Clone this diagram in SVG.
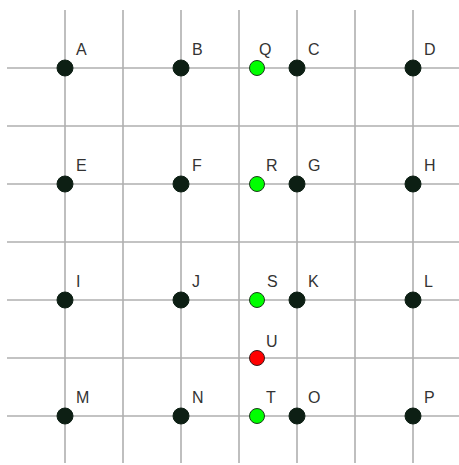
<svg xmlns="http://www.w3.org/2000/svg" width="459" height="465" viewBox="0 0 459 465">
<style>
.g{stroke:#b0b0b0;stroke-width:1.6;fill:none}
.k{fill:#0d1f14;stroke:#0d1f14;stroke-width:1}
.gr{fill:#00ff00;stroke:#1a3a1a;stroke-width:1}
.rd{fill:#ff0000;stroke:#3a1a1a;stroke-width:1}
text{font-family:"Liberation Sans",Arial,sans-serif;font-size:16px;fill:#333}
</style>
<rect width="459" height="465" fill="#fff"/>
<g id="connectors">
<path class="g" d="M65 10V463M123 10V463M181 10V463M239 10V463M297 10V463M355 10V463M413 10V463"/>
<path class="g" d="M7 68H459M7 126H459M7 184H459M7 242H459M7 300H459M7 358H459M7 416H459"/>
</g>
<g id="A"><circle class="k" cx="65" cy="68" r="8"/><text x="76" y="55">A</text></g>
<g id="B"><circle class="k" cx="181" cy="68" r="8"/><text x="192" y="55">B</text></g>
<g id="C"><circle class="k" cx="297" cy="68" r="8"/><text x="308" y="55">C</text></g>
<g id="D"><circle class="k" cx="413" cy="68" r="8"/><text x="424" y="55">D</text></g>
<g id="E"><circle class="k" cx="65" cy="184" r="8"/><text x="76" y="171">E</text></g>
<g id="F"><circle class="k" cx="181" cy="184" r="8"/><text x="192" y="171">F</text></g>
<g id="G"><circle class="k" cx="297" cy="184" r="8"/><text x="308" y="171">G</text></g>
<g id="H"><circle class="k" cx="413" cy="184" r="8"/><text x="424" y="171">H</text></g>
<g id="I"><circle class="k" cx="65" cy="300" r="8"/><text x="76" y="287">I</text></g>
<g id="J"><circle class="k" cx="181" cy="300" r="8"/><text x="192" y="287">J</text></g>
<g id="K"><circle class="k" cx="297" cy="300" r="8"/><text x="308" y="287">K</text></g>
<g id="L"><circle class="k" cx="413" cy="300" r="8"/><text x="424" y="287">L</text></g>
<g id="M"><circle class="k" cx="65" cy="416" r="8"/><text x="76" y="403">M</text></g>
<g id="N"><circle class="k" cx="181" cy="416" r="8"/><text x="192" y="403">N</text></g>
<g id="O"><circle class="k" cx="297" cy="416" r="8"/><text x="308" y="403">O</text></g>
<g id="P"><circle class="k" cx="413" cy="416" r="8"/><text x="424" y="403">P</text></g>
<g id="Q"><circle class="gr" cx="257" cy="68" r="7.5"/><text x="259" y="55">Q</text></g>
<g id="R"><circle class="gr" cx="257" cy="184" r="7.5"/><text x="266" y="171">R</text></g>
<g id="S"><circle class="gr" cx="257" cy="300" r="7.5"/><text x="267" y="287">S</text></g>
<g id="U"><circle class="rd" cx="257" cy="358" r="7.5"/><text x="266" y="347">U</text></g>
<g id="T"><circle class="gr" cx="257" cy="416" r="7.5"/><text x="266" y="403">T</text></g>
</svg>
